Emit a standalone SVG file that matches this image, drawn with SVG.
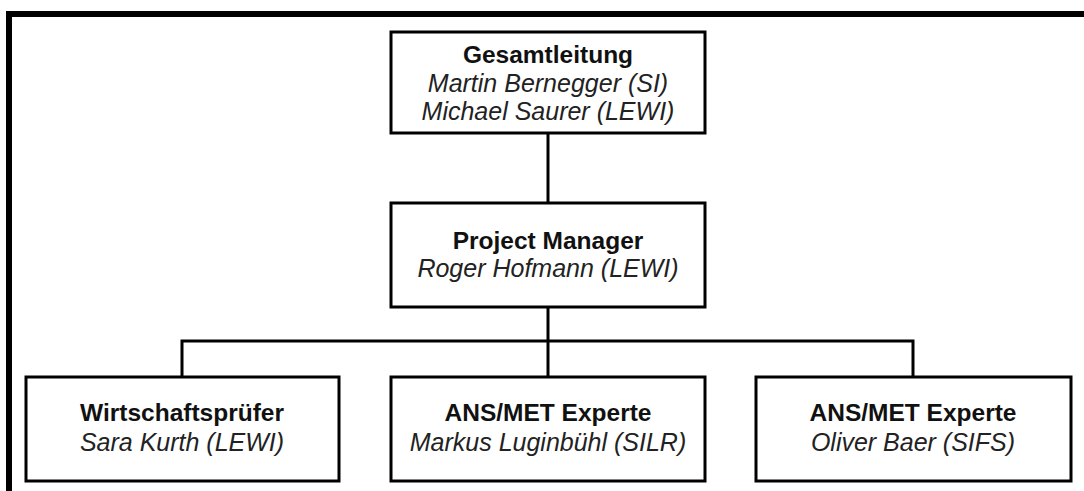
<svg xmlns="http://www.w3.org/2000/svg" width="1084" height="491" viewBox="0 0 1084 491">
<style>
.box{fill:#fff;stroke:#000;stroke-width:3}
.conn{fill:none;stroke:#000;stroke-width:3}
.t{font-family:"Liberation Sans",Arial,sans-serif;font-size:24.5px;text-anchor:middle;fill:#111}
.b{font-weight:bold}
.i{font-style:italic;fill:#222;font-size:25px}
</style>
<rect x="0" y="0" width="1084" height="491" fill="#fff"/>
<rect x="9" y="14" width="1100" height="500" fill="none" stroke="#000" stroke-width="6"/>
<g id="connectors">
<line class="conn" x1="548" y1="133" x2="548" y2="203"/>
<line class="conn" x1="548" y1="307" x2="548" y2="377"/>
<polyline class="conn" points="182,377 182,341 913,341 913,377"/>
</g>
<g id="gesamtleitung">
<rect class="box" x="391" y="32" width="314" height="101"/>
<text class="t b" x="548" y="63">Gesamtleitung</text>
<text class="t i" x="548" y="92">Martin Bernegger (SI)</text>
<text class="t i" x="548" y="120">Michael Saurer (LEWI)</text>
</g>
<g id="projectmanager">
<rect class="box" x="391" y="203" width="314" height="104"/>
<text class="t b" x="548" y="249">Project Manager</text>
<text class="t i" x="548" y="277">Roger Hofmann (LEWI)</text>
</g>
<g id="wirtschaftspruefer">
<rect class="box" x="26" y="377" width="313" height="104"/>
<text class="t b" x="182" y="421">Wirtschaftsprüfer</text>
<text class="t i" x="182" y="451">Sara Kurth (LEWI)</text>
</g>
<g id="experte1">
<rect class="box" x="391" y="377" width="314" height="104"/>
<text class="t b" x="548" y="421">ANS/MET Experte</text>
<text class="t i" x="548" y="451">Markus Luginbühl (SILR)</text>
</g>
<g id="experte2">
<rect class="box" x="756" y="377" width="315" height="104"/>
<text class="t b" x="913" y="421">ANS/MET Experte</text>
<text class="t i" x="913" y="451">Oliver Baer (SIFS)</text>
</g>
</svg>
